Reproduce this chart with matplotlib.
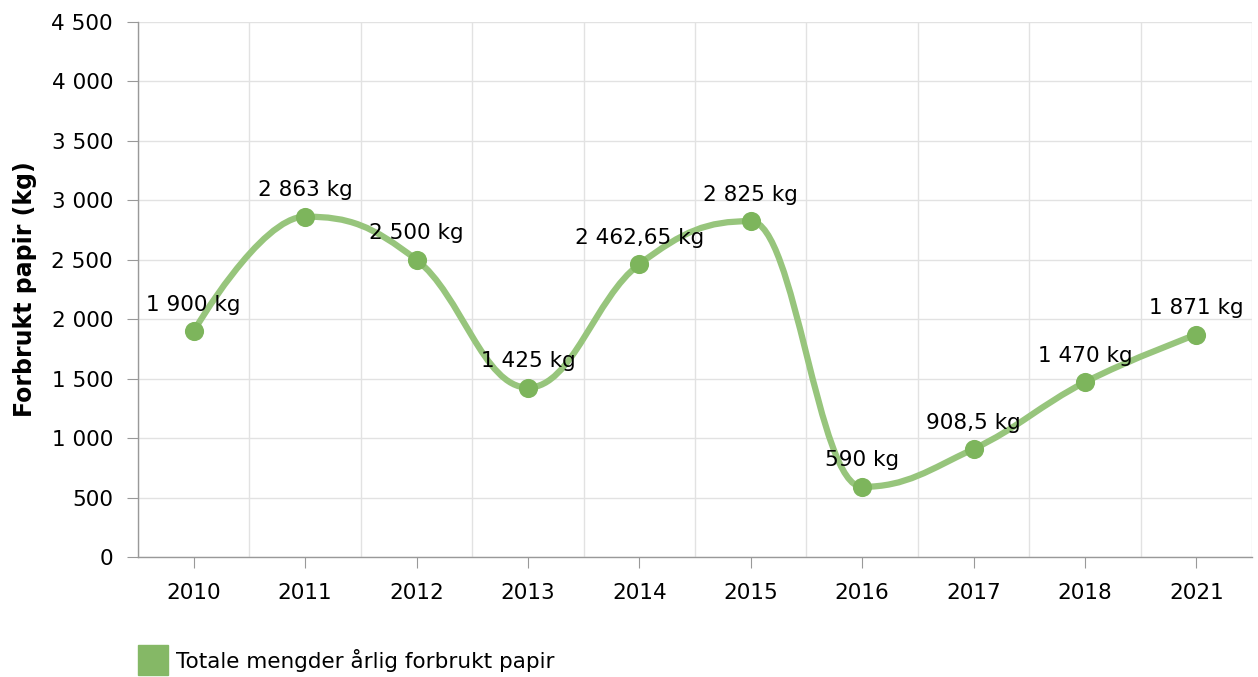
import numpy as np
import matplotlib
matplotlib.use("Agg")
import matplotlib.pyplot as plt
from matplotlib.path import Path
from matplotlib.patches import PathPatch, Rectangle

years = ["2010", "2011", "2012", "2013", "2014", "2015", "2016", "2017", "2018", "2021"]
values = [1900, 2863, 2500, 1425, 2462.65, 2825, 590, 908.5, 1470, 1871]
labels = ["1 900 kg", "2 863 kg", "2 500 kg", "1 425 kg", "2 462,65 kg",
          "2 825 kg", "590 kg", "908,5 kg", "1 470 kg", "1 871 kg"]
yticks = [0, 500, 1000, 1500, 2000, 2500, 3000, 3500, 4000, 4500]
ytick_labels = ["0", "500", "1 000", "1 500", "2 000", "2 500", "3 000", "3 500", "4 000", "4 500"]

line_col = "#97c57c"
marker_col = "#7db55c"
grid_col = "#e2e2e2"
fs = 15.5


def spline_path(xs, ys, smoothing=1.5):
    # highcharts-like spline control points
    n = len(xs)
    left = [None] * n
    right = [None] * n
    denom = smoothing + 1
    for i in range(1, n - 1):
        px, py = xs[i], ys[i]
        lx, ly = xs[i - 1], ys[i - 1]
        nx, ny = xs[i + 1], ys[i + 1]
        lcx = (smoothing * px + lx) / denom
        lcy = (smoothing * py + ly) / denom
        rcx = (smoothing * px + nx) / denom
        rcy = (smoothing * py + ny) / denom
        if rcx != lcx:
            corr = (rcy - lcy) * (rcx - px) / (rcx - lcx) + py - rcy
            lcy += corr
            rcy += corr
        if lcy > ly and lcy > py:
            lcy = max(ly, py)
            rcy = 2 * py - lcy
        elif lcy < ly and lcy < py:
            lcy = min(ly, py)
            rcy = 2 * py - lcy
        if rcy > ny and rcy > py:
            rcy = max(ny, py)
            lcy = 2 * py - rcy
        elif rcy < ny and rcy < py:
            rcy = min(ny, py)
            lcy = 2 * py - rcy
        left[i] = (lcx, lcy)
        right[i] = (rcx, rcy)
    verts = [(xs[0], ys[0])]
    codes = [Path.MOVETO]
    for i in range(1, n):
        c1 = right[i - 1] if right[i - 1] is not None else (xs[i - 1], ys[i - 1])
        c2 = left[i] if left[i] is not None else (xs[i], ys[i])
        verts += [c1, c2, (xs[i], ys[i])]
        codes += [Path.CURVE4] * 3
    return Path(verts, codes)


fig = plt.figure(figsize=(12.58, 6.77), dpi=100)
ax = fig.add_axes([138 / 1258, 120 / 677, 1114 / 1258, 535 / 677])

x = np.arange(len(years))
ax.add_patch(PathPatch(spline_path(list(x), values), fill=False,
                       edgecolor=line_col, lw=4.5, capstyle="round", zorder=3))
ax.scatter(x, values, s=190, color=marker_col, zorder=4, linewidths=0)

for xi, v, lab in zip(x, values, labels):
    ax.annotate(lab, (xi, v), xytext=(0, 19), textcoords="offset points",
                ha="center", va="center", fontsize=fs, color="#000000", zorder=5)

ax.set_xlim(-0.5, len(years) - 0.5)
ax.set_ylim(0, 4500)
ax.set_xticks(x)
ax.set_xticklabels(years, fontsize=fs)
ax.set_yticks(yticks)
ax.set_yticklabels(ytick_labels, fontsize=fs)
ax.set_xticks(np.arange(-0.5, len(years)), minor=True)
ax.grid(True, which="minor", axis="x", color=grid_col, lw=1)
ax.grid(True, which="major", axis="y", color=grid_col, lw=1)
ax.tick_params(axis="x", which="major", length=8, color="#999999", pad=11)
ax.tick_params(axis="x", which="minor", length=0)
ax.tick_params(axis="y", length=8, color="#999999", pad=10)
ax.set_axisbelow(True)
for s in ["top", "right"]:
    ax.spines[s].set_visible(False)
for s in ["left", "bottom"]:
    ax.spines[s].set_color("#999999")
    ax.spines[s].set_linewidth(1)

ax.set_ylabel("Forbrukt papir (kg)", fontsize=17, fontweight="bold", labelpad=10)

fig.patches.append(Rectangle((138 / 1258, 2 / 677), 30 / 1258, 30 / 677,
                             transform=fig.transFigure, color="#85b866"))
fig.text(176 / 1258, 17 / 677, "Totale mengder årlig forbrukt papir",
         fontsize=fs, va="center", ha="left")

fig.savefig("out.png", dpi=100)
